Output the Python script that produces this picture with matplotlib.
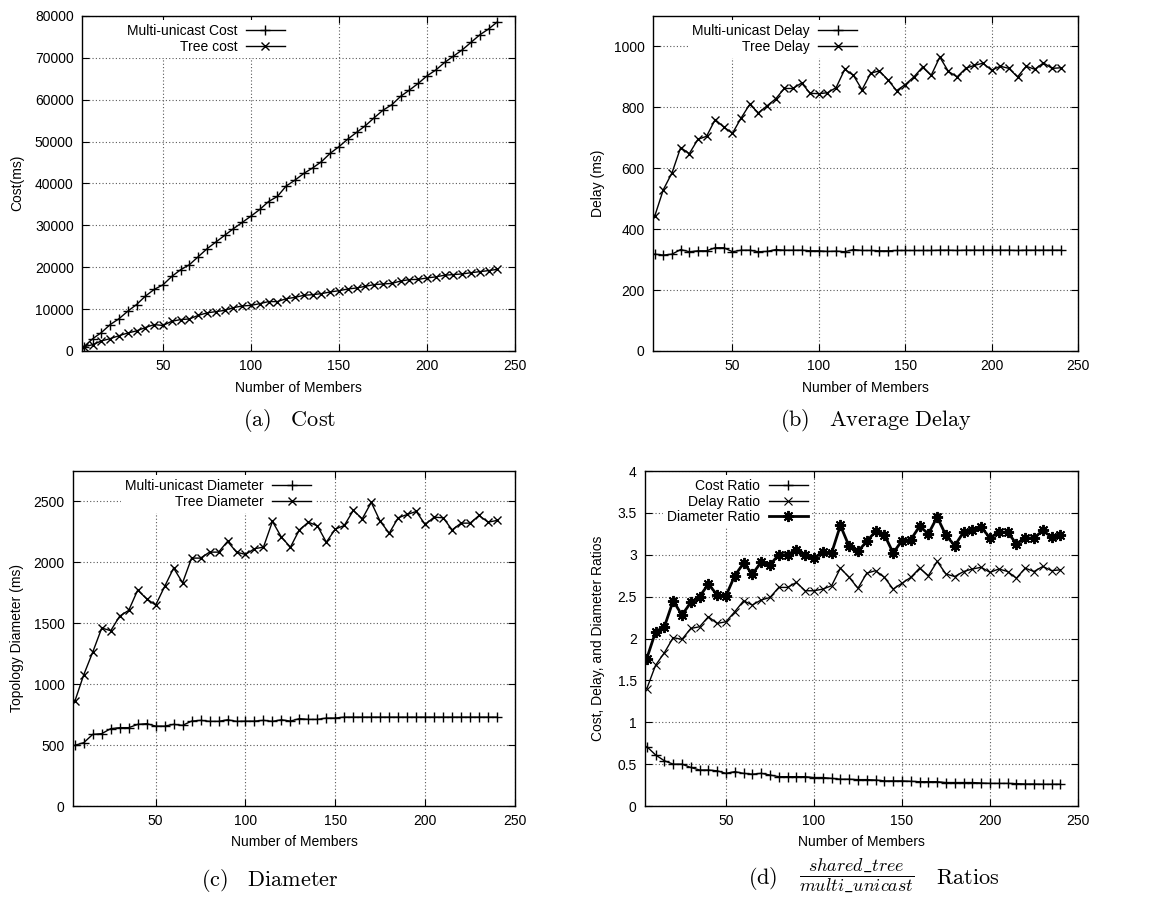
import matplotlib
matplotlib.use("Agg")
import matplotlib.pyplot as plt

plt.rcParams['font.family'] = ['Liberation Sans', 'DejaVu Sans']
plt.rcParams['mathtext.fontset'] = 'cm'

members = list(range(5, 241, 5))

# (a) cost
multi_cost = [1000, 2900, 4400, 6300, 7700, 9500, 11100, 13100, 14700, 15800,
              17800, 19400, 20600, 22500, 24400, 26000, 27600, 29200, 30700, 32200,
              33800, 35700, 36900, 39400, 40800, 42400, 43700, 45200, 47200, 48800,
              50600, 52200, 53800, 55700, 57500, 58800, 60800, 62300, 63900, 65700,
              67100, 68900, 70400, 71900, 73700, 75500, 76900, 78600]
tree_cost = [1000, 1500, 2400, 2950, 3650, 4300, 4800, 5600, 6300, 6100,
             7100, 7500, 7650, 8500, 9100, 9400, 9700, 10350, 10750, 10900,
             11300, 11800, 11800, 12500, 12800, 13300, 13450, 13700, 14100, 14400,
             14800, 15050, 15450, 15850, 16000, 16150, 16700, 17050, 17100, 17450,
             17700, 18100, 18250, 18400, 18700, 18950, 19200, 19500]

# (b) average delay
multi_delay = [318, 315, 318, 333, 326, 329, 329, 339, 339, 326,
               331, 331, 326, 327, 333, 331, 331, 331, 329, 329,
               327, 328, 326, 333, 330, 330, 329, 329, 330, 330,
               330, 330, 330, 331, 331, 330, 331, 331, 331, 331,
               331, 331, 330, 331, 331, 331, 331, 331]
tree_delay = [443, 530, 585, 668, 648, 695, 705, 760, 735, 715,
              765, 810, 782, 805, 828, 862, 862, 880, 846, 845,
              848, 865, 925, 905, 858, 912, 920, 890, 855, 875,
              900, 932, 905, 965, 918, 900, 928, 938, 945, 922,
              935, 928, 900, 935, 925, 946, 928, 930]

# (c) diameter
multi_diam = [498, 520, 588, 594, 635, 643, 643, 670, 676, 656,
              656, 670, 662, 697, 703, 695, 695, 708, 695, 697,
              697, 703, 695, 708, 697, 717, 711, 711, 722, 722,
              730, 730, 730, 730, 730, 730, 730, 730, 730, 730,
              730, 730, 730, 730, 730, 730, 730, 730]
tree_diam = [859, 1078, 1264, 1461, 1439, 1559, 1606, 1772, 1701, 1649,
             1802, 1953, 1833, 2035, 2035, 2084, 2084, 2172, 2084, 2065,
             2112, 2125, 2336, 2207, 2125, 2267, 2330, 2300, 2166, 2273,
             2303, 2426, 2358, 2492, 2336, 2240, 2366, 2393, 2418, 2311,
             2371, 2366, 2267, 2322, 2322, 2385, 2330, 2344]

# (d) ratios
cost_ratio = [0.71, 0.61, 0.54, 0.50, 0.50, 0.46, 0.43, 0.43, 0.42, 0.39,
              0.41, 0.39, 0.38, 0.39, 0.37, 0.35, 0.35, 0.35, 0.35, 0.34,
              0.34, 0.33, 0.32, 0.32, 0.315, 0.315, 0.31, 0.30, 0.30, 0.30,
              0.295, 0.29, 0.29, 0.29, 0.28, 0.28, 0.28, 0.28, 0.275, 0.27,
              0.27, 0.27, 0.267, 0.263, 0.263, 0.26, 0.26, 0.26]
delay_ratio = [1.40, 1.68, 1.83, 2.01, 1.99, 2.12, 2.14, 2.26, 2.18, 2.20,
               2.32, 2.45, 2.40, 2.46, 2.49, 2.61, 2.61, 2.67, 2.57, 2.57,
               2.59, 2.63, 2.84, 2.73, 2.60, 2.78, 2.81, 2.73, 2.59, 2.66,
               2.73, 2.84, 2.75, 2.92, 2.77, 2.74, 2.80, 2.83, 2.85, 2.79,
               2.83, 2.80, 2.72, 2.84, 2.80, 2.86, 2.81, 2.82]
diam_ratio = [1.76, 2.08, 2.14, 2.45, 2.28, 2.43, 2.50, 2.65, 2.52, 2.51,
              2.75, 2.90, 2.77, 2.91, 2.88, 3.00, 3.00, 3.06, 3.00, 2.96,
              3.03, 3.02, 3.35, 3.10, 3.04, 3.16, 3.28, 3.24, 3.02, 3.17,
              3.18, 3.34, 3.25, 3.45, 3.23, 3.11, 3.27, 3.30, 3.33, 3.20,
              3.27, 3.27, 3.13, 3.20, 3.20, 3.29, 3.21, 3.24]

W, H = 1153, 898
fig = plt.figure(figsize=(W / 100, H / 100), dpi=100)


def make_axes(left, top, right, bottom):
    return fig.add_axes([left / W, 1 - bottom / H, (right - left) / W, (bottom - top) / H])


def style(ax, ylim, yticks, ylabels):
    ax.set_xlim(4, 250)
    ax.set_ylim(*ylim)
    ax.set_xticks([50, 100, 150, 200, 250])
    ax.set_yticks(yticks)
    ax.set_yticklabels(ylabels)
    ax.tick_params(direction='in', top=True, right=True, length=5, width=0.8,
                   labelsize=10)
    ax.tick_params(axis='y', pad=6)
    ax.tick_params(axis='x', pad=6)
    ax.grid(True, color='0.35', linestyle=(0, (1, 2)), linewidth=0.8)
    ax.set_axisbelow(True)
    for s in ax.spines.values():
        s.set_linewidth(1.0)


def legend(ax, xr):
    # gnuplot-like key: text right aligned, sample line after it
    leg = ax.legend(loc='upper right', bbox_to_anchor=(xr, 1 - 4 / 335), markerfirst=False,
                    frameon=True, fancybox=False, framealpha=1, edgecolor='none',
                    facecolor='white', fontsize=10, handlelength=2.8,
                    handletextpad=0.6, labelspacing=0.1, borderaxespad=0,
                    borderpad=0.3)
    return leg


def caption(x, y, s, size=16):
    fig.text(x / W, 1 - y / H, s, ha='center', va='center', fontsize=size)


lk = dict(color='black', linewidth=1.0, markersize=7, markeredgewidth=1.0)
xk = dict(color='black', linewidth=1.0, markersize=6, markeredgewidth=1.0)

# (a) Cost
ax = make_axes(82, 16, 515, 351)
ax.plot(members, multi_cost, marker='+', label='Multi-unicast Cost', **lk)
ax.plot(members, tree_cost, marker='x', label='Tree cost', **xk)
style(ax, (0, 80000), range(0, 80001, 10000), [str(v) for v in range(0, 80001, 10000)])
legend(ax, 0.478)
fig.text(17 / W, 1 - 183 / H, 'Cost(ms)', rotation=90, ha='center', va='center', fontsize=10)
fig.text(298 / W, 1 - 388 / H, 'Number of Members', ha='center', va='center', fontsize=10)
caption(290, 421, r'$\mathrm{(a)\ \ \ Cost}$')

# (b) Average Delay
ax = make_axes(653, 16, 1078, 351)
ax.plot(members, multi_delay, marker='+', label='Multi-unicast Delay', **lk)
ax.plot(members, tree_delay, marker='x', label='Tree Delay', **xk)
style(ax, (0, 1100), range(0, 1001, 200), [str(v) for v in range(0, 1001, 200)])
legend(ax, 0.49)
fig.text(598 / W, 1 - 183 / H, 'Delay (ms)', rotation=90, ha='center', va='center', fontsize=10)
fig.text(865 / W, 1 - 388 / H, 'Number of Members', ha='center', va='center', fontsize=10)
caption(876, 421, r'$\mathrm{(b)\ \ \ Average\ Delay}$')

# (c) Diameter
ax = make_axes(73, 471, 515, 806)
ax.plot(members, multi_diam, marker='+', label='Multi-unicast Diameter', **lk)
ax.plot(members, tree_diam, marker='x', label='Tree Diameter', **xk)
style(ax, (0, 2750), range(0, 2501, 500), [str(v) for v in range(0, 2501, 500)])
legend(ax, 0.548)
fig.text(17 / W, 1 - 638 / H, 'Topology Diameter (ms)', rotation=90, ha='center', va='center', fontsize=10)
fig.text(294 / W, 1 - 842 / H, 'Number of Members', ha='center', va='center', fontsize=10)
caption(270, 880, r'$\mathrm{(c)\ \ \ Diameter}$')

# (d) Ratios
ax = make_axes(645, 471, 1078, 806)
ax.plot(members, cost_ratio, marker='+', label='Cost Ratio', **lk)
ax.plot(members, delay_ratio, marker='x', label='Delay Ratio',
        color='black', linewidth=1.0, markersize=6, markeredgewidth=0.8)
ax.plot(members, diam_ratio, marker=(8, 2, 0), markersize=8, label='Diameter Ratio',
        color='black', linewidth=2.0, markeredgewidth=1.4)
yt = [0, 0.5, 1, 1.5, 2, 2.5, 3, 3.5, 4]
style(ax, (0, 4), yt, ['0', '0.5', '1', '1.5', '2', '2.5', '3', '3.5', '4'])
legend(ax, 0.385)
fig.text(598 / W, 1 - 638 / H, 'Cost, Delay, and Diameter Ratios', rotation=90, ha='center', va='center', fontsize=10)
fig.text(861 / W, 1 - 842 / H, 'Number of Members', ha='center', va='center', fontsize=10)
fig.text(748 / W, 1 - 879 / H, r'$\mathrm{(d)}$', ha='left', va='center', fontsize=16)
fig.text(857 / W, 1 - 876 / H, r'$\dfrac{shared\_tree}{multi\_unicast}$', ha='center', va='center', fontsize=13)
fig.text(999 / W, 1 - 879 / H, r'$\mathrm{Ratios}$', ha='right', va='center', fontsize=16)

fig.savefig('out.png', dpi=100)
